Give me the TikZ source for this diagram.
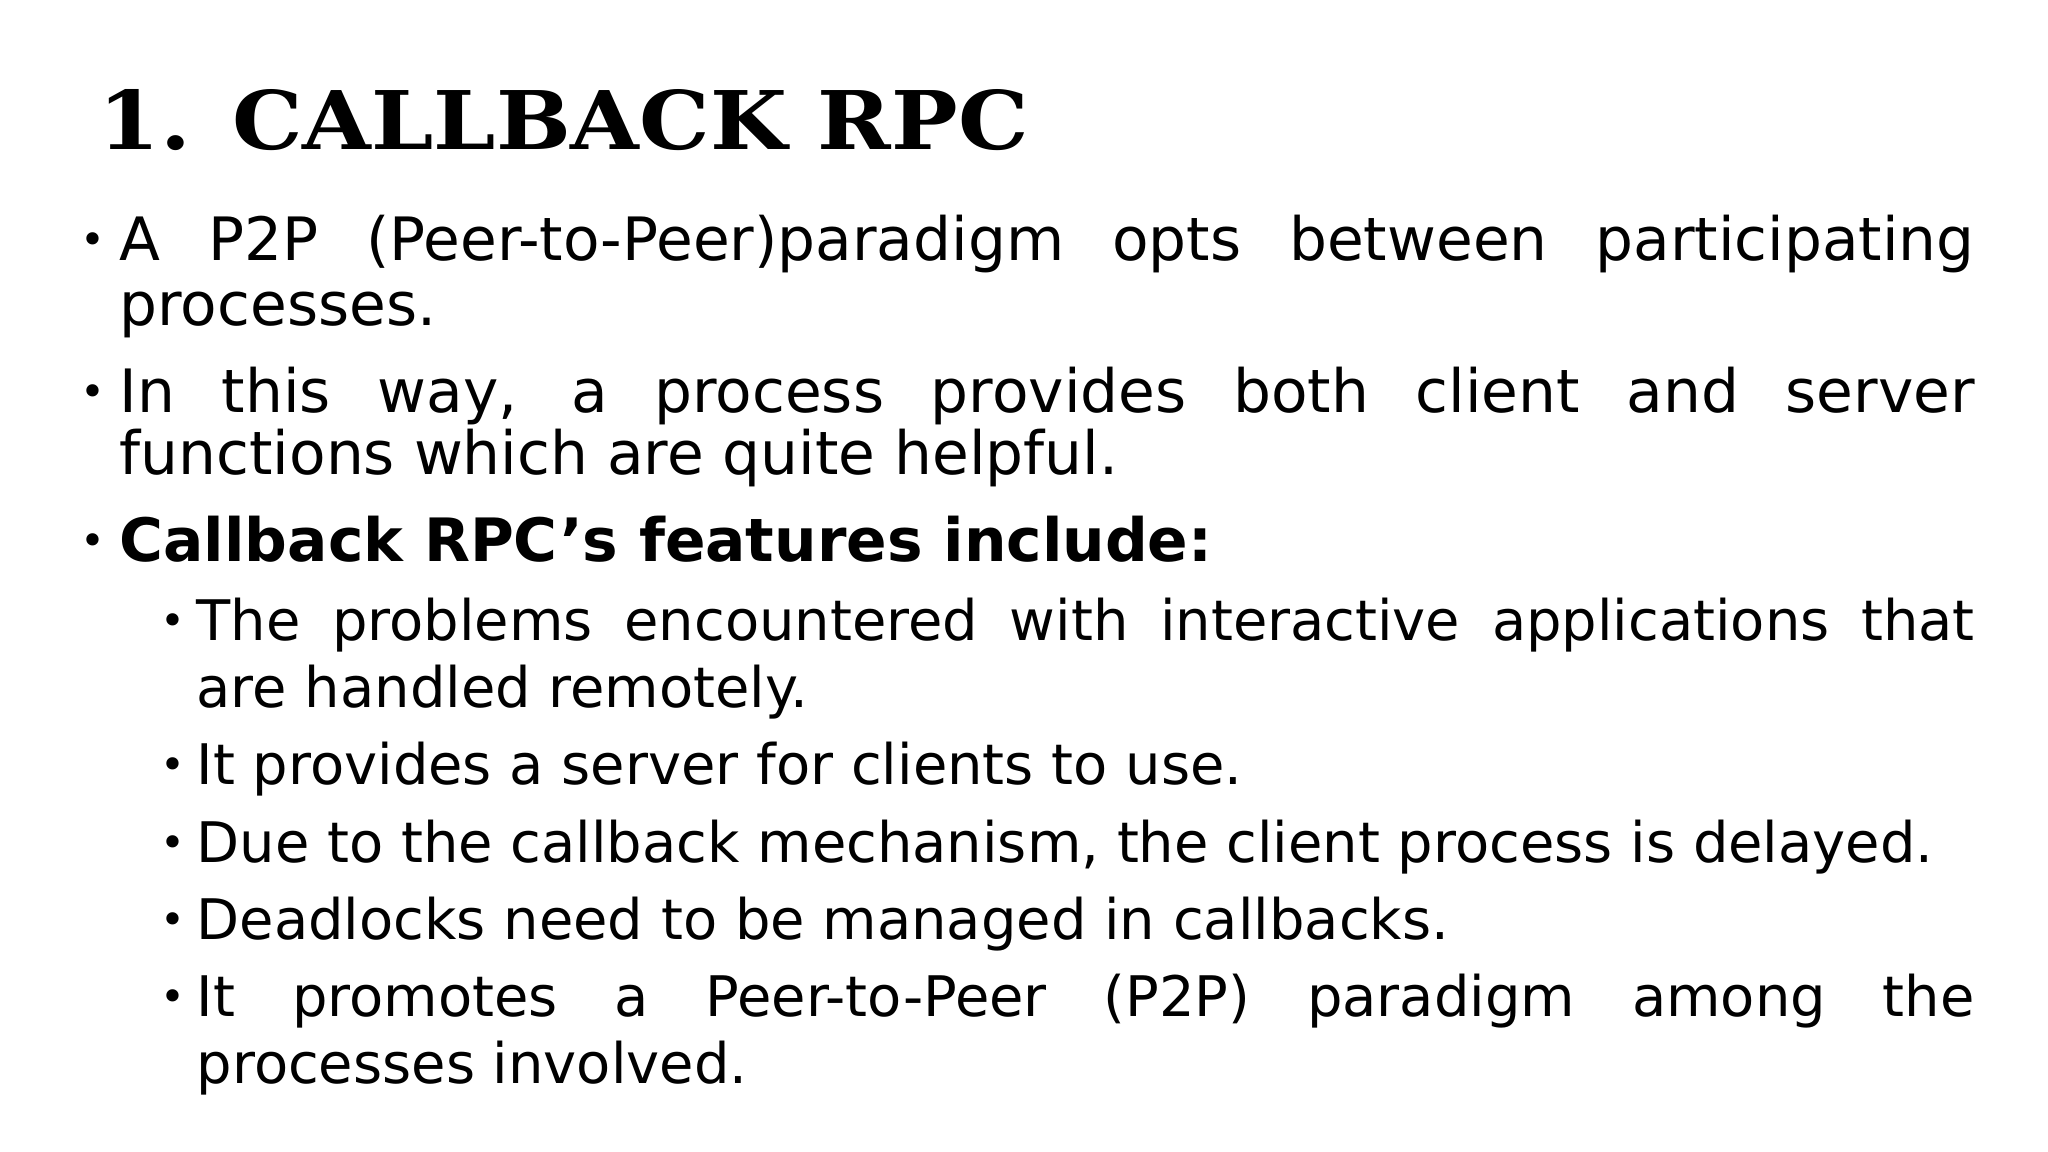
\documentclass[tikz,border=0pt]{standalone}
\usepackage{fontspec}
\setmainfont{DejaVu Sans}
\newfontfamily\titlefont{DejaVu Serif}
\begin{document}
\begin{tikzpicture}[x=0.01cm,y=-0.01cm,
  ln/.style={anchor=base west,inner sep=0pt},
  body/.style={ln,font=\fontsize{17}{21}\selectfont},
  sub/.style={ln,font=\fontsize{15.9}{19}\selectfont},
  bul/.style={anchor=base west,inner sep=0pt,font=\fontsize{12}{14}\selectfont}]
\useasboundingbox (0,0) rectangle (2048,1152);
\node[ln,font=\titlefont\bfseries\fontsize{23}{28}\selectfont] (t) at (98,150) {\scalebox{1.095}[1]{1. CALLBACK RPC}};
% level 1
\node[bul] (b1) at (80,255) {\textbullet};
\node[body] (l1a) at (119,261) {\makebox[18.54cm][s]{A P2P (Peer-to-Peer)paradigm opts between participating}};
\node[body] (l1b) at (119,326) {processes.};
\node[bul] (b2) at (80,407) {\textbullet};
\node[body] (l2a) at (119,413) {\makebox[18.54cm][s]{In this way, a process provides both client and server}};
\node[body] (l2b) at (119,475) {functions which are quite helpful.};
\node[bul] (b3) at (80,556) {\textbullet};
\node[body] (l3a) at (119,562) {\bfseries Callback RPC’s features include:};
% level 2
\node[bul] (s1) at (160,635) {\textbullet};
\node[sub] (s1a) at (196,640) {\makebox[17.77cm][s]{The problems encountered with interactive applications that}};
\node[sub] (s1b) at (196,707) {are handled remotely.};
\node[bul] (s2) at (160,779) {\textbullet};
\node[sub] (s2a) at (196,784) {It provides a server for clients to use.};
\node[bul] (s3) at (160,857) {\textbullet};
\node[sub] (s3a) at (196,862) {Due to the callback mechanism, the client process is delayed.};
\node[bul] (s4) at (160,934) {\textbullet};
\node[sub] (s4a) at (196,939) {Deadlocks need to be managed in callbacks.};
\node[bul] (s5) at (160,1011) {\textbullet};
\node[sub] (s5a) at (196,1016) {\makebox[17.77cm][s]{It promotes a Peer-to-Peer (P2P) paradigm among the}};
\node[sub] (s5b) at (196,1083) {processes involved.};
\end{tikzpicture}
\end{document}
